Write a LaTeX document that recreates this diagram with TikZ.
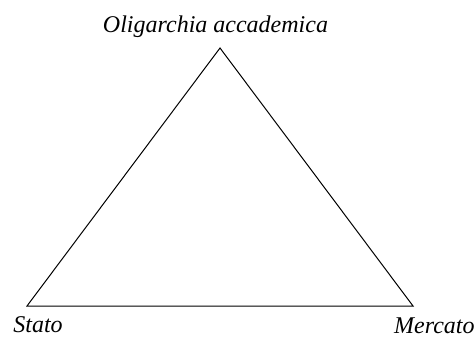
\documentclass[tikz,border=0pt]{standalone}
\usepackage{fontspec}
\setmainfont{Liberation Serif}
\usetikzlibrary{positioning}
\tikzset{
  actor/.style={font=\fontsize{12}{14}\selectfont\itshape, inner sep=0pt},
  side/.style={line width=0.5pt, line join=miter},
}

\begin{document}
\begin{tikzpicture}[x=0.5pt, y=-0.5pt]
\useasboundingbox (0,0) rectangle (476,342);

\coordinate (apex) at (220,48);
\coordinate (stato) at (27,306);
\coordinate (mercato) at (413,306);

\draw[side] (apex) -- (stato) -- (mercato) -- cycle;

\node[actor, anchor=base] (oligarchia) at (215.5,33) {Oligarchia accademica};
\node[actor, anchor=base west] (statolab) at (13,332) {Stato};
\node[actor, anchor=base east] (mercatolab) at (475,333) {Mercato};

\end{tikzpicture}
\end{document}
